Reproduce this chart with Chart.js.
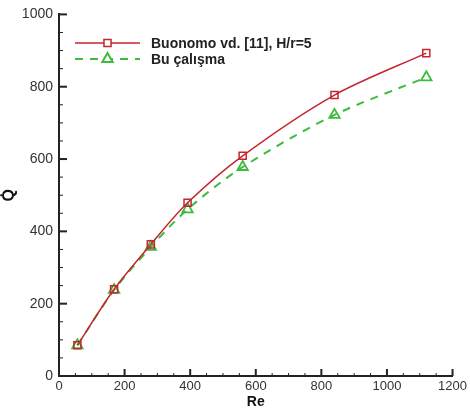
<!DOCTYPE html>
<html>
<head>
<meta charset="utf-8">
<script src="https://cdn.jsdelivr.net/npm/chart.js@4/dist/chart.umd.min.js"></script>
<style>
  html, body { margin: 0; padding: 0; background: #fff; }
  #wrap { width: 470px; height: 411px; }
</style>
</head>
<body>
<div id="wrap"><canvas id="qChart"></canvas></div>
<script>
// Data
const reValues = [56, 168, 280, 392, 560, 840, 1120];
const buonomoQ = [85, 240, 364, 479, 609, 777, 893];
const buCalismaQ = [85, 238, 357, 461, 578, 722, 826];
const seriesLabels = ['Buonomo vd. [11], H/r=5', 'Bu çalışma'];
const xTicks = [0, 200, 400, 600, 800, 1000, 1200];
const yTicks = [0, 200, 400, 600, 800, 1000];

const RED = '#c4262e';
const GREEN = '#3dbb3d';
const AXIS = '#222';

Chart.defaults.font.family = "'Liberation Sans', Arial, sans-serif";
Chart.defaults.color = '#333';

function toPoints(xs, ys) {
    return xs.map((x, i) => ({ x: x, y: ys[i] }));
}

// inward major/minor tick marks, Tecplot style
const tickMarks = {
    id: 'tickMarks',
    afterDraw(chart) {
        const ctx = chart.ctx;
        const xs = chart.scales.x, ys = chart.scales.y;
        const bottom = chart.chartArea.bottom, left = chart.chartArea.left;
        ctx.save();
        ctx.strokeStyle = AXIS;
        for (let v = 0; v <= 1200; v += 50) {
            const major = v % 200 === 0;
            const px = xs.getPixelForValue(v);
            ctx.lineWidth = major ? 2 : 1;
            ctx.beginPath();
            ctx.moveTo(px, bottom);
            ctx.lineTo(px, bottom - (major ? 7 : 3));
            ctx.stroke();
        }
        for (let v = 0; v <= 1000; v += 50) {
            const major = v % 200 === 0;
            const py = ys.getPixelForValue(v);
            ctx.lineWidth = major ? 2 : 1;
            ctx.beginPath();
            ctx.moveTo(left, py);
            ctx.lineTo(left + (major ? 8 : 4), py);
            ctx.stroke();
        }
        ctx.restore();
    }
};

// legend drawn inside the plot, line sample with marker in the middle
const insideLegend = {
    id: 'insideLegend',
    afterDraw(chart) {
        const ctx = chart.ctx;
        const x0 = 75, x1 = 140, tx = 151;
        const rows = [43, 59];
        ctx.save();
        chart.data.datasets.forEach((ds, i) => {
            const y = rows[i];
            ctx.strokeStyle = ds.borderColor;
            ctx.lineWidth = ds.borderWidth;
            ctx.setLineDash(ds.borderDash || []);
            ctx.beginPath();
            ctx.moveTo(x0, y);
            ctx.lineTo(x1, y);
            ctx.stroke();
            ctx.setLineDash([]);
            ctx.fillStyle = '#fff';
            Chart.helpers.drawPoint(ctx, {
                pointStyle: ds.pointStyle,
                radius: ds.pointRadius,
                borderWidth: ds.pointBorderWidth
            }, (x0 + x1) / 2, y);
            ctx.fillStyle = '#222';
            ctx.font = "bold 14px 'Liberation Sans', Arial, sans-serif";
            ctx.textBaseline = 'middle';
            ctx.fillText(ds.label, tx, y + 1);
        });
        ctx.restore();
    }
};

new Chart(document.getElementById('qChart'), {
    type: 'line',
    data: {
        datasets: [{
            label: seriesLabels[0],
            data: toPoints(reValues, buonomoQ),
            borderColor: RED,
            borderWidth: 1.5,
            pointStyle: 'rect',
            pointRadius: 5,
            pointBorderWidth: 1.5,
            pointBorderColor: RED,
            pointBackgroundColor: 'rgba(255,255,255,0)',
            tension: 0.3
        }, {
            label: seriesLabels[1],
            data: toPoints(reValues, buCalismaQ),
            borderColor: GREEN,
            borderWidth: 2,
            borderDash: [8, 7],
            pointStyle: 'triangle',
            pointRadius: 6,
            pointBorderWidth: 1.8,
            pointBorderColor: GREEN,
            pointBackgroundColor: 'rgba(255,255,255,0)',
            tension: 0.3
        }]
    },
    options: {
        responsive: true,
        maintainAspectRatio: false,
        animation: false,
        layout: { padding: { top: 13, right: 13, left: 0, bottom: 0 } },
        plugins: {
            legend: { display: false },
            tooltip: { enabled: false }
        },
        scales: {
            x: {
                type: 'linear',
                min: 0,
                max: 1200,
                afterBuildTicks: (s) => { s.ticks = xTicks.map(v => ({ value: v })); },
                afterFit: (s) => { s.height = 35; },
                grid: { display: false, drawTicks: false },
                border: { display: true, color: AXIS, width: 2 },
                ticks: { padding: 3, font: { size: 13 }, maxRotation: 0, callback: (v) => String(v) },
                title: {
                    display: true,
                    text: 'Re',
                    font: { size: 14, weight: 'bold' },
                    color: '#111',
                    padding: { top: 0, bottom: 0 }
                }
            },
            y: {
                min: 0,
                max: 1000,
                afterBuildTicks: (s) => { s.ticks = yTicks.map(v => ({ value: v })); },
                afterFit: (s) => { s.width = 59; },
                grid: { display: false, drawTicks: false },
                border: { display: true, color: AXIS, width: 2 },
                ticks: { padding: 6, font: { size: 14 }, callback: (v) => String(v) },
                title: {
                    display: true,
                    text: 'Q\u0307',
                    font: { size: 16, weight: 'bold' },
                    color: '#111',
                    padding: { top: 0, bottom: 0 }
                }
            }
        }
    },
    plugins: [tickMarks, insideLegend]
});
</script>
</body>
</html>
